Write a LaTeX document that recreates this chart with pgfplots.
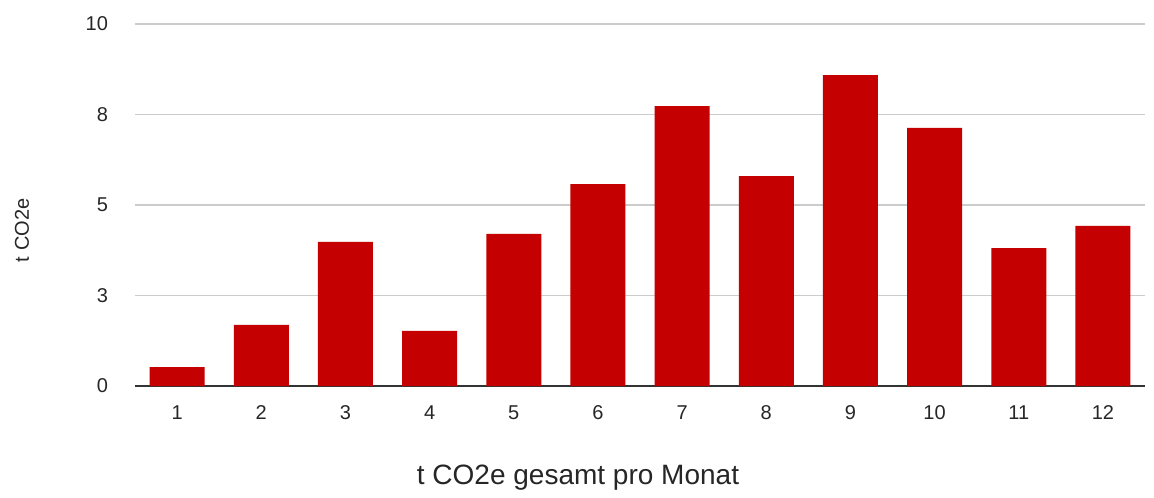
\documentclass[border=0pt]{standalone}
\usepackage{pgfplots}
\pgfplotsset{compat=1.18}
\usepackage{fontspec}
\setmainfont{Liberation Sans}
\definecolor{barred}{HTML}{C50000}
\definecolor{gridgray}{HTML}{CCCCCC}

\begin{document}
\begin{tikzpicture}
\begin{axis}[
    scale only axis,
    width=505pt, height=181pt,
    xmin=0.5, xmax=12.5,
    ymin=0, ymax=10,
    axis x line*=bottom,
    axis y line*=left,
    y axis line style={draw=none},
    x axis line style={draw=black!80, line width=0.6pt},
    xtick={1,...,12},
    tick style={draw=none},
    ytick={0,2.5,5,7.5,10},
    yticklabels={0,3,5,8,10},
    ymajorgrids,
    major grid style={gridgray, line width=0.6pt},
    tick label style={font=\fontsize{10}{11}\selectfont, text=black!85},
    xticklabel style={anchor=base, yshift=-16.5pt},
    yticklabel style={xshift=-10pt},
    /pgf/number format/assume math mode=true,
    clip=false,
]
\addplot[ybar, bar width=27.5pt, fill=barred, draw=none] coordinates {
    (1,0.52) (2,1.69) (3,3.98) (4,1.52) (5,4.20) (6,5.58)
    (7,7.73) (8,5.80) (9,8.59) (10,7.13) (11,3.81) (12,4.42)
};
\node[rotate=90, font=\fontsize{10}{11}\selectfont, text=black!85]
    at (rel axis cs:-0.112,0.43) {t CO2e};
\node[font=\fontsize{14}{16}\selectfont, text=black!85]
    at (rel axis cs:0.4386,-0.254) {t CO2e gesamt pro Monat};
\path[draw=none] (rel axis cs:-0.1337,-0.2956) rectangle (rel axis cs:1.0089,1.0663);
\end{axis}
\end{tikzpicture}
\end{document}
